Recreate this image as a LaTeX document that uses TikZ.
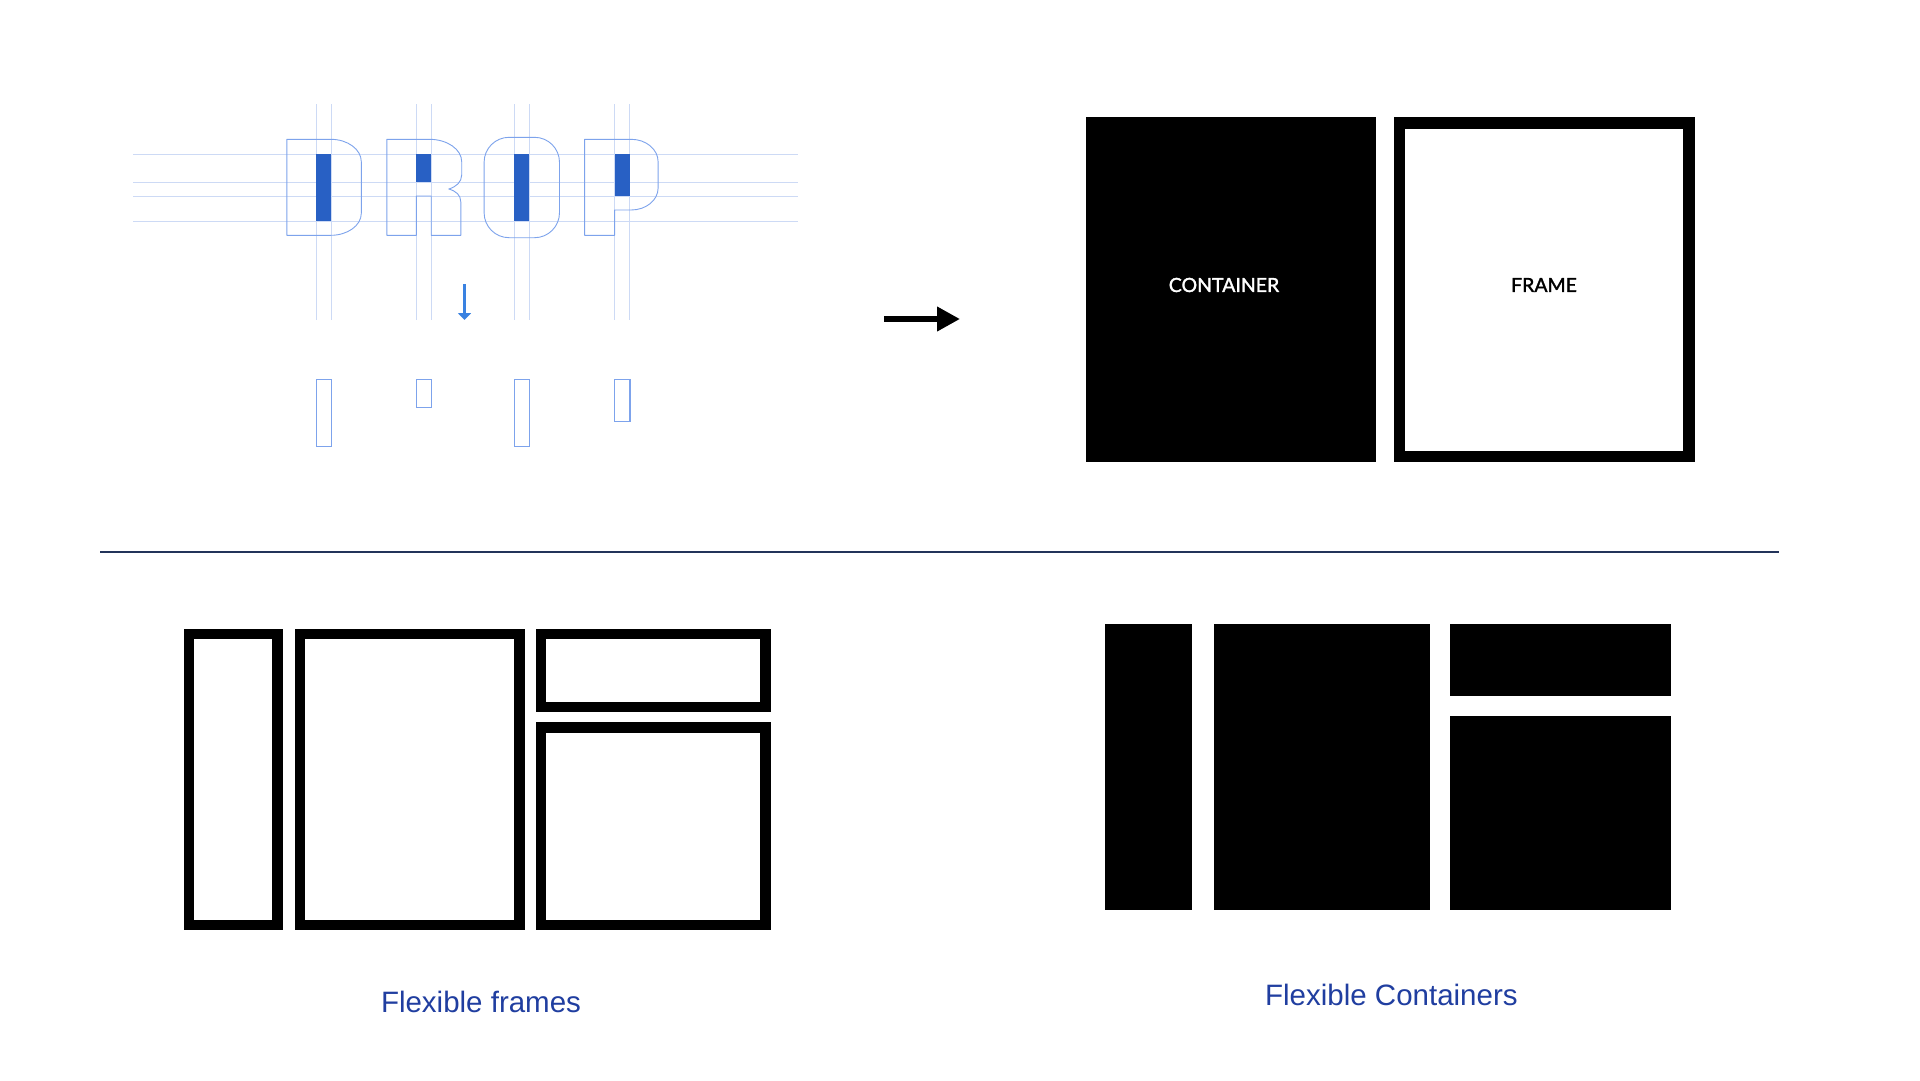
\documentclass[tikz,border=0pt]{standalone}
\usepackage{fontspec}
\usetikzlibrary{arrows.meta}
\newfontfamily\capfont{Lato}[FakeBold=1.6]
\newfontfamily\arialfont{Liberation Sans}
\definecolor{guide}{RGB}{205,218,245}
\definecolor{glyph}{RGB}{125,163,236}
\definecolor{bar}{RGB}{40,96,196}
\definecolor{darrow}{RGB}{58,130,225}
\definecolor{navy}{RGB}{35,52,90}
\definecolor{labelblue}{RGB}{32,62,160}
\tikzset{
  guideline/.style={draw=guide, line width=1pt},
  glyphline/.style={draw=glyph, line width=0.9pt, line join=round},
  barfill/.style={fill=bar},
  smallrect/.style={draw=glyph, line width=1.3pt},
  framebox/.style={draw=black, line width=10.5pt},
  blockbox/.style={fill=black},
  caption/.style={font=\arialfont\fontsize{29.5}{32}\selectfont, text=labelblue, inner sep=0pt, anchor=base},
  boxtext/.style={font=\capfont\fontsize{19.5}{22}\selectfont, inner sep=0pt}
}
\begin{document}
\begin{tikzpicture}[x=1pt,y=-1pt]
\fill[white] (0,0) rectangle (1920,1080);
\useasboundingbox (0,0) rectangle (1920,1080);

% guide lines
\foreach \yy in {154,182.3,196,221.3}
  \draw[guideline] (133,\yy) -- (798,\yy);
\foreach \xx in {316.4,331.2,416.4,431.2,514.2,529.4,614.6,629.9}
  \draw[guideline] (\xx,104) -- (\xx,320);

% bars
\fill[barfill] (316.4,154) rectangle (331.2,221.3);
\fill[barfill] (416.4,154) rectangle (431.2,182.3);
\fill[barfill] (514.2,154) rectangle (529.4,221.3);
\fill[barfill] (614.6,154) rectangle (629.9,196);

% letter D
\draw[glyphline] (286.8,139.3) -- (330.8,139.3) .. controls (347.6,139.3) and (361.3,149.3) .. (361.3,161.7)
  -- (361.3,213.3) .. controls (361.3,225.5) and (347.6,235.3) .. (330.8,235.3) -- (286.8,235.3) -- cycle;
% letter R
\draw[glyphline] (386.8,235.3) -- (386.8,139.3) -- (429.4,139.3) .. controls (447.2,139.3) and (461.7,149.3) .. (461.7,161.7)
  -- (461.7,175) .. controls (461.7,182) and (456,187) .. (448.7,189)
  .. controls (456,191) and (460.8,195) .. (460.8,202) -- (460.8,235.3) -- (431.2,235.3) -- (431.2,196)
  -- (416.4,196) -- (416.4,235.3) -- cycle;
% letter O
\draw[glyphline, rounded corners=25pt] (484.1,137.3) rectangle (559.5,237.7);
% letter P
\draw[glyphline] (584.6,235.3) -- (584.6,139.3) -- (631.2,139.3) .. controls (646,139.3) and (658.1,149.3) .. (658.1,161.7)
  -- (658.1,188) .. controls (658.1,200.2) and (646,210) .. (631.2,210) -- (614.6,210) -- (614.6,235.3) -- cycle;

% down arrow
\coordinate (dA) at (464.5,284);
\coordinate (dB) at (464.5,320);
\draw[darrow, line width=3pt, -{Triangle[width=13pt,length=7pt]}] (dA) -- (dB);

% small rectangles
\draw[smallrect] (316.4,379.3) rectangle (331.2,446.6);
\draw[smallrect] (416.4,379.3) rectangle (431.2,407.6);
\draw[smallrect] (514.2,379.3) rectangle (529.4,446.6);
\draw[smallrect] (614.6,379.3) rectangle (629.9,421.3);

% right arrow
\coordinate (rA) at (884,319);
\coordinate (rB) at (960,319);
\draw[black, line width=6pt, -{Triangle[width=23.4pt,length=23pt]}] (rA) -- (rB);

% container and frame
\fill[blockbox] (1086.1,117.3) rectangle (1375.5,462);
\node[boxtext, text=white] (ctext) at (1224,285) {CONTAINER};
\draw[black, line width=11.5pt] (1399.65,123.05) rectangle (1688.95,456.25);
\node[boxtext, text=black] (ftext) at (1544,285) {FRAME};

% separator
\coordinate (sL) at (100,552);
\coordinate (sR) at (1779,552);
\draw[navy, line width=2pt] (sL) -- (sR);

% flexible frames
\draw[framebox] (189.05,633.95) rectangle (277.35,924.75);
\draw[framebox] (300.15,634.2) rectangle (519.25,924.75);
\draw[framebox] (540.85,634.2) rectangle (765.55,707.05);
\draw[framebox] (540.85,727.55) rectangle (765.55,924.75);
\node[caption] (lf) at (481,1012.7) {Flexible frames};

% flexible containers
\fill[blockbox] (1104.6,624.2) rectangle (1192.3,909.8);
\fill[blockbox] (1213.8,624.2) rectangle (1429.8,909.8);
\fill[blockbox] (1450.2,624.2) rectangle (1671.2,696.3);
\fill[blockbox] (1450.2,716.3) rectangle (1671.2,909.8);
\node[caption] (lc) at (1391.4,1005) {Flexible Containers};
\end{tikzpicture}
\end{document}
